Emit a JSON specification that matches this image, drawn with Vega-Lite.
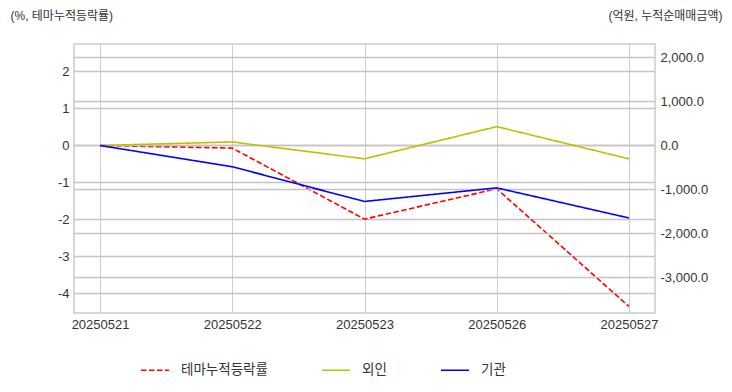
{
  "$schema": "https://vega.github.io/schema/vega-lite/v6.json",
  "autosize": "none",
  "width": 581,
  "height": 269,
  "padding": {"left": 74, "top": 44, "right": 77, "bottom": 79},
  "background": "white",
  "config": {
    "font": "'Liberation Sans', 'Noto Sans CJK KR', sans-serif",
    "view": {"stroke": "#cccccc", "strokeWidth": 1.5},
    "locale": {"number": {"decimal": ".", "thousands": ",", "grouping": [3], "currency": ["$", ""], "minus": "-"}},
    "axis": {"labelFont": "'Liberation Sans', 'Noto Sans CJK KR', sans-serif", "labelFontSize": 13, "labelColor": "#333333", "ticks": false, "domain": false, "gridColor": "#cccccc", "gridWidth": 1, "gridOpacity": 1}
  },
  "datasets": {
    "theme": [
      {"date": "20250521", "series": "테마누적등락률", "value": 0},
      {"date": "20250522", "series": "테마누적등락률", "value": -0.07},
      {"date": "20250523", "series": "테마누적등락률", "value": -1.99},
      {"date": "20250526", "series": "테마누적등락률", "value": -1.17},
      {"date": "20250527", "series": "테마누적등락률", "value": -4.35}
    ],
    "flow": [
      {"date": "20250521", "series": "외인", "value": 0},
      {"date": "20250522", "series": "외인", "value": 81},
      {"date": "20250523", "series": "외인", "value": -302},
      {"date": "20250526", "series": "외인", "value": 429},
      {"date": "20250527", "series": "외인", "value": -302},
      {"date": "20250521", "series": "기관", "value": 0},
      {"date": "20250522", "series": "기관", "value": -483},
      {"date": "20250523", "series": "기관", "value": -1272},
      {"date": "20250526", "series": "기관", "value": -963},
      {"date": "20250527", "series": "기관", "value": -1647}
    ],
    "leftTicks": [{"tick": -4}, {"tick": -3}, {"tick": -2}, {"tick": -1}, {"tick": 0}, {"tick": 1}, {"tick": 2}],
    "rightTicks": [{"tick": -3000}, {"tick": -2000}, {"tick": -1000}, {"tick": 0}, {"tick": 1000}, {"tick": 2000}]
  },
  "layer": [
    {
      "layer": [
        {
          "data": {"name": "leftTicks"},
          "mark": {"type": "rule", "color": "#c4c4c4", "strokeWidth": 1.3},
          "encoding": {
            "x": {"value": 0},
            "x2": {"value": "width"},
            "y": {"field": "tick", "type": "quantitative",
                  "scale": {"domain": [-4.527, 2.743], "nice": false, "zero": false},
                  "axis": {"orient": "left", "grid": false, "values": [-4, -3, -2, -1, 0, 1, 2], "format": "d", "labelPadding": 5,
                           "title": "(%, 테마누적등락률)", "titleAngle": 0, "titleX": -64, "titleY": -29, "titleAlign": "left", "titleBaseline": "middle",
                           "titleFontSize": 12, "titleFontWeight": "normal", "titleColor": "#333333"}}
          }
        },
        {
          "data": {"name": "theme"},
          "mark": {"type": "line", "strokeWidth": 1.6},
          "encoding": {
            "x": {"field": "date", "type": "ordinal", "sort": null,
                  "scale": {"type": "point", "padding": 0.197},
                  "axis": {"title": null, "labelAngle": 0, "labelPadding": 5, "grid": true, "orient": "bottom"}},
            "y": {"field": "value", "type": "quantitative",
                  "scale": {"domain": [-4.527, 2.743], "nice": false, "zero": false},
                  "axis": {"orient": "left", "grid": false, "values": [-4, -3, -2, -1, 0, 1, 2], "format": "d", "labelPadding": 5,
                           "title": "(%, 테마누적등락률)", "titleAngle": 0, "titleX": -64, "titleY": -29, "titleAlign": "left", "titleBaseline": "middle",
                           "titleFontSize": 12, "titleFontWeight": "normal", "titleColor": "#333333"}},
            "color": {"field": "series", "type": "nominal",
                      "scale": {"domain": ["테마누적등락률", "외인", "기관"], "range": ["#ff0000", "#bfbf00", "#0000ff"]},
                      "legend": {"title": null, "orient": "none", "legendX": 66, "legendY": 311, "direction": "horizontal", "columns": 3, "columnPadding": 50,
                                 "symbolType": "stroke", "symbolSize": 784, "symbolStrokeWidth": 1.6, "labelFontSize": 13.5, "labelColor": "#333333", "labelOffset": 11}},
            "strokeDash": {"field": "series", "type": "nominal",
                      "scale": {"domain": ["테마누적등락률", "외인", "기관"], "range": [[5.5, 2.5], [1, 0], [1, 0]]},
                      "legend": {"title": null, "orient": "none", "legendX": 66, "legendY": 311, "direction": "horizontal", "columns": 3, "columnPadding": 50,
                                 "symbolType": "stroke", "symbolSize": 784, "symbolStrokeWidth": 1.6, "labelFontSize": 13.5, "labelColor": "#333333", "labelOffset": 11}}
          }
        }
      ]
    },
    {
      "layer": [
        {
          "data": {"name": "rightTicks"},
          "mark": {"type": "rule", "color": "#c4c4c4", "strokeWidth": 1.3},
          "encoding": {
            "x": {"value": 0},
            "x2": {"value": "width"},
            "y": {"field": "tick", "type": "quantitative",
                  "scale": {"domain": [-3807, 2307], "nice": false, "zero": false},
                  "axis": {"orient": "right", "grid": false, "values": [-3000, -2000, -1000, 0, 1000, 2000], "format": ",.1f", "labelPadding": 5,
                           "title": "(억원, 누적순매매금액)", "titleAngle": 0, "titleX": 67, "titleY": -29, "titleAlign": "right", "titleBaseline": "middle",
                           "titleFontSize": 12, "titleFontWeight": "normal", "titleColor": "#333333"}}
          }
        },
        {
          "data": {"name": "flow"},
          "mark": {"type": "line", "strokeWidth": 1.6},
          "encoding": {
            "x": {"field": "date", "type": "ordinal", "sort": null,
                  "scale": {"type": "point", "padding": 0.197},
                  "axis": {"title": null, "labelAngle": 0, "labelPadding": 5, "grid": true, "orient": "bottom"}},
            "y": {"field": "value", "type": "quantitative",
                  "scale": {"domain": [-3807, 2307], "nice": false, "zero": false},
                  "axis": {"orient": "right", "grid": false, "values": [-3000, -2000, -1000, 0, 1000, 2000], "format": ",.1f", "labelPadding": 5,
                           "title": "(억원, 누적순매매금액)", "titleAngle": 0, "titleX": 67, "titleY": -29, "titleAlign": "right", "titleBaseline": "middle",
                           "titleFontSize": 12, "titleFontWeight": "normal", "titleColor": "#333333"}},
            "color": {"field": "series", "type": "nominal"},
            "strokeDash": {"field": "series", "type": "nominal"}
          }
        }
      ]
    }
  ],
  "resolve": {"scale": {"y": "independent"}}
}
